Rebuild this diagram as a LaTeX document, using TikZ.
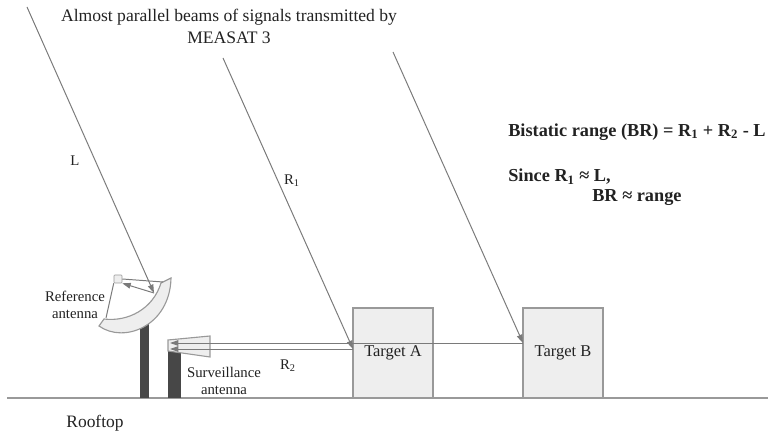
\documentclass[tikz,border=0pt]{standalone}
\usepackage{fontspec}
\setmainfont{Liberation Serif}
\usetikzlibrary{arrows.meta}

\definecolor{linegray}{HTML}{7A7A7A}
\definecolor{boxgray}{HTML}{EEEEEE}
\definecolor{edgegray}{HTML}{999999}
\definecolor{polegray}{HTML}{474747}
\definecolor{txt}{HTML}{222222}

\begin{document}
\begin{tikzpicture}[x=0.025cm,y=-0.025cm,
  beam/.style={linegray,line width=0.7pt,-{Triangle[length=6pt,width=4pt]}},
  target/.style={draw=edgegray,fill=boxgray,line width=1pt,minimum width=2cm,minimum height=2.25cm,text=txt,font=\fontsize{11.7}{14}\selectfont},
  lbl/.style={text=txt,font=\fontsize{10.5}{12}\selectfont,align=center,inner sep=0pt},
  eq/.style={text=txt,font=\fontsize{13}{15}\selectfont\bfseries,anchor=west,inner sep=0pt}]
\useasboundingbox (0,0) rectangle (768,438);

% rooftop
\draw[edgegray,line width=1.2pt] (7,398) -- (768,398);
\node[lbl,font=\fontsize{12.4}{14}\selectfont] (roof) at (95,423) {Rooftop};

% poles
\fill[polegray] (140,318) rectangle (149,398);
\fill[polegray] (168,351) rectangle (181,398);

% reference dish
\draw[edgegray,fill=boxgray,line width=0.8pt] (99,326) .. controls (124,344) and (170,326) .. (171,278)
  -- (161,283) .. controls (153,309) and (128,322) .. (104,319) -- cycle;
\node[draw=edgegray,fill=boxgray,rounded corners=0.6pt,minimum size=0.2cm,inner sep=0pt] (feed) at (118,279) {};
\coordinate (rim) at (163,282);
\coordinate (lip) at (106,318);
\coordinate (spot) at (154,293);
\draw[linegray,line width=0.7pt] (feed.east) -- (rim);
\draw[linegray,line width=0.7pt] (feed.south west) -- (lip);
\draw[beam] (spot) -- (feed.south east);

% surveillance horn
\draw[edgegray,fill=boxgray,line width=0.8pt] (168,340) -- (210,336) -- (210,357) -- (168,351) -- cycle;
\coordinate (hornB) at (170,343);
\coordinate (hornA) at (170,349);

% targets
\node[target] (ta) at (393,353) {Target A};
\node[target] (tb) at (563,353) {Target B};
\coordinate (hitA) at (353,349);
\coordinate (hitB) at (523,343);

% beams from the satellite
\coordinate (sL) at (27,7);
\coordinate (s1) at (223,58);
\coordinate (s2) at (393,52);
\draw[beam] (sL) -- (spot);
\draw[beam] (s1) -- (hitA);
\draw[beam] (s2) -- (hitB);

% echoes back to the horn
\draw[beam] (hitB) -- (hornB);
\draw[beam] (hitA) -- (hornA);

% labels
\node[lbl] (lL) at (75,161) {L};
\node[lbl] (lR1) at (292,181) {R\textsubscript{1}};
\node[lbl] (lR2) at (288,366) {R\textsubscript{2}};
\node[lbl] (ref) at (75,305) {Reference\\antenna};
\node[lbl] (surv) at (224,381) {Surveillance\\antenna};
\node[lbl,font=\fontsize{12.5}{15.6}\selectfont] (title) at (229,26) {Almost parallel beams of signals transmitted by\\MEASAT 3};

% range equations
\node[eq] (bistatic) at (508,132) {Bistatic range (BR) = R\textsubscript{1} + R\textsubscript{2} - L};
\node[eq] (since) at (508,177) {Since R\textsubscript{1} ≈ L,};
\node[eq] (approx) at (592,198) {BR ≈ range};
\end{tikzpicture}
\end{document}
